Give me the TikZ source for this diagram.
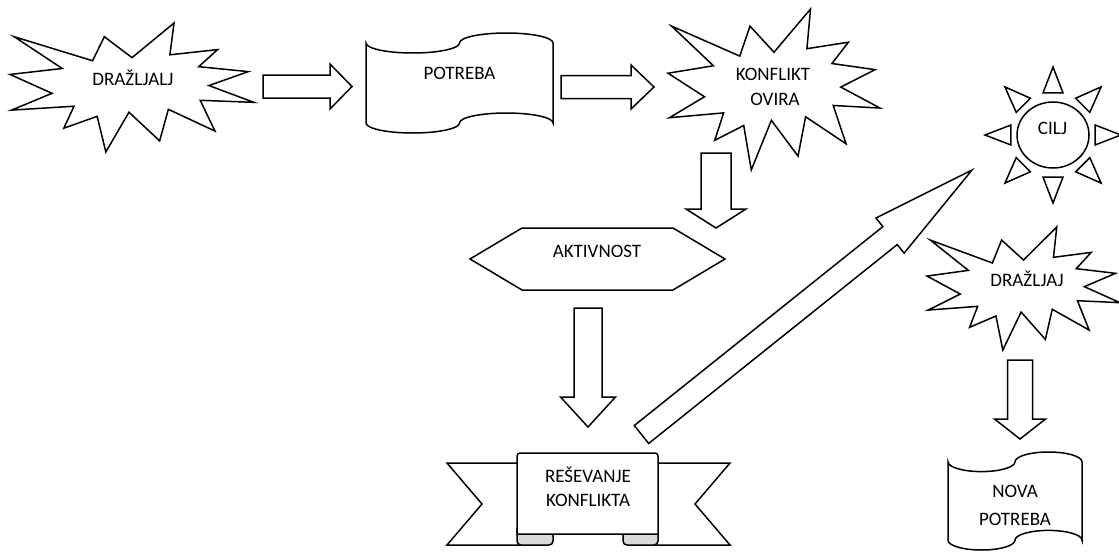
\documentclass[tikz,border=0pt]{standalone}
\usepackage{fontspec}
\setmainfont{Carlito}
\usetikzlibrary{calc}
\tikzset{
  shp/.style={draw=black, line width=1.5pt, fill=white, line join=miter},
  roll/.style={draw=black, line width=1.5pt, fill=gray!30},
  lbl/.style={anchor=base, inner sep=0pt, font=\fontsize{19}{23}\selectfont, text=black},
}
% explosion shape: x0 y0 W H (top-left corner, size)
\newcommand{\burstpoly}[4]{%
  \begin{scope}[shift={(#1,#2)}]
    \begin{scope}[x=#3pt, y=-#4pt]
      \draw[shp] (0.5,0.2685) -- (0.6723,0) -- (0.6553,0.2465) -- (0.8509,0.2063)
        -- (0.7732,0.3387) -- (0.9767,0.3767) -- (0.8151,0.4850) -- (1,0.6153)
        -- (0.7795,0.5992) -- (0.8400,0.8377) -- (0.6491,0.6693) -- (0.6133,0.9137)
        -- (0.4876,0.6914) -- (0.3928,1) -- (0.3572,0.7235) -- (0.2205,0.8156)
        -- (0.2624,0.6452) -- (0.0063,0.6753) -- (0.1723,0.5451) -- (0,0.3988)
        -- (0.2142,0.3526) -- (0.0171,0.1063) -- (0.3385,0.2926) -- (0.3867,0.1063)
        -- cycle;
    \end{scope}
  \end{scope}}
% punched tape shape: x0 y0 W H
\newcommand{\tapepoly}[4]{%
  \begin{scope}[shift={(#1,#2)}]
    \begin{scope}[x=#3pt, y=-#4pt]
      \draw[shp] (0,0.1)
        .. controls (0,0.1552) and (0.1119,0.2) .. (0.25,0.2)
        .. controls (0.3881,0.2) and (0.5,0.1552) .. (0.5,0.1)
        .. controls (0.5,0.0448) and (0.6119,0) .. (0.75,0)
        .. controls (0.8881,0) and (1,0.0448) .. (1,0.1)
        -- (1,0.9)
        .. controls (1,0.8448) and (0.8881,0.8) .. (0.75,0.8)
        .. controls (0.6119,0.8) and (0.5,0.8448) .. (0.5,0.9)
        .. controls (0.5,0.9552) and (0.3881,1) .. (0.25,1)
        .. controls (0.1119,1) and (0,0.9552) .. (0,0.9)
        -- cycle;
    \end{scope}
  \end{scope}}
% block arrow: start, tip, shaft half width, head half width, head length
\newcommand{\blockarrow}[5]{%
  \coordinate (bah) at ($(#2)!#5!(#1)$);
  \draw[shp] ($(#1)!#3!90:(#2)$) -- ($(bah)!#3!-90:(#1)$) -- ($(bah)!#4!-90:(#1)$)
    -- (#2) -- ($(bah)!#4!90:(#1)$) -- ($(bah)!#3!90:(#1)$) -- ($(#1)!#3!-90:(#2)$) -- cycle;}
\begin{document}
\begin{tikzpicture}[x=1pt, y=-1pt]
\useasboundingbox (0,0) rectangle (1119,552);

% shapes
\burstpoly{10}{23}{244}{129}
\tapepoly{366}{33}{187}{100}
\burstpoly{668}{9}{212}{161}
\draw[shp] (470,259) -- (522,228) -- (673,228) -- (725,259) -- (673,290) -- (522,290) -- cycle;
\burstpoly{927}{227}{193}{123}
\tapepoly{948}{452}{134}{98}

% sun
\coordinate (sun) at (1053,135);
\draw[shp] (sun) ellipse[x radius=36, y radius=33];
\foreach \a in {0,45,...,315}{
  \draw[shp] ($(sun)+(\a+13.4:43.2)$) -- ($(sun)+(\a:68)$) -- ($(sun)+(\a-13.4:43.2)$) -- cycle;
}

% banner
\draw[shp] (540,463) -- (447,463) -- (482,504) -- (447,545) -- (540,545) -- cycle;
\draw[shp] (640,463) -- (730,463) -- (695,504) -- (730,545) -- (640,545) -- cycle;
\draw[roll, rounded corners=4pt] (517,528) -- (517,545) -- (553,545) -- (553,530);
\draw[roll, rounded corners=4pt] (658,528) -- (658,545) -- (623,545) -- (623,530);
\draw[shp] (517,534) [rounded corners=3pt] -- (517,453) -- (658,453) [sharp corners] -- (658,534) -- cycle;

% labels
\node[lbl] (t1) at (133,85) {DRAŽLJALJ};
\node[lbl] (t2) at (459.5,79) {POTREBA};
\node[lbl] (t3a) at (773,80) {KONFLIKT};
\node[lbl] (t3b) at (775,105) {OVIRA};
\node[lbl] (t4) at (597,257) {AKTIVNOST};
\node[lbl] (t5a) at (588,482) {REŠEVANJE};
\node[lbl] (t5b) at (588,506) {KONFLIKTA};
\node[lbl] (t6) at (1052.5,134) {CILJ};
\node[lbl] (t7) at (1027,286) {DRAŽLJAJ};
\node[lbl] (t8a) at (1015,497) {NOVA};
\node[lbl] (t8b) at (1015,525) {POTREBA};

% connectors (block arrows)
\coordinate (a1s) at (263,86.5); \coordinate (a1e) at (352,86.5);
\coordinate (a2s) at (561,87);   \coordinate (a2e) at (654,87);
\coordinate (a3s) at (716,153);  \coordinate (a3e) at (716,228);
\coordinate (a4s) at (588,308);  \coordinate (a4e) at (588,427);
\coordinate (a5s) at (641.5,434.5); \coordinate (a5e) at (972,170);
\coordinate (a6s) at (1020,360); \coordinate (a6e) at (1020,439);
\blockarrow{a1s}{a1e}{11.5pt}{22.5pt}{22pt}
\blockarrow{a2s}{a2e}{11.5pt}{22pt}{23pt}
\blockarrow{a3s}{a3e}{15pt}{30pt}{19pt}
\blockarrow{a4s}{a4e}{14pt}{27.5pt}{30pt}
\blockarrow{a5s}{a5e}{11.5pt}{22.5pt}{105pt}
\blockarrow{a6s}{a6e}{12.5pt}{25.5pt}{20pt}
\end{tikzpicture}
\end{document}
